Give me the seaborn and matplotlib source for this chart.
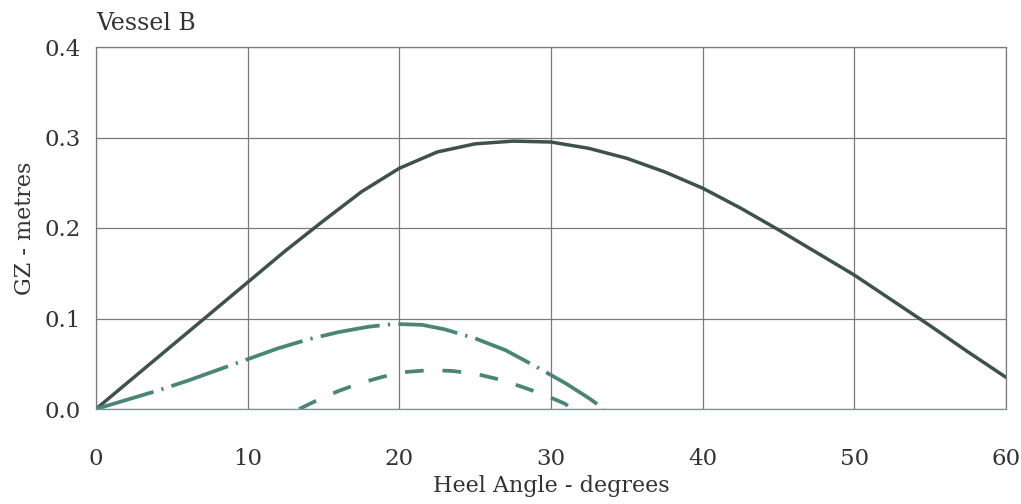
import matplotlib
matplotlib.use("Agg")
import matplotlib.pyplot as plt
import seaborn as sns
import pandas as pd

# Data
angle_full = [0, 2.5, 5, 7.5, 10, 12.5, 15, 17.5, 20, 22.5, 25, 27.5, 30, 32.5, 35, 37.5,
              40, 42.5, 45, 47.5, 50, 52.5, 55, 57.5, 60]
gz_full = [0.0, 0.035, 0.070, 0.105, 0.140, 0.175, 0.208, 0.240, 0.266, 0.284, 0.293, 0.296,
           0.295, 0.288, 0.277, 0.262, 0.244, 0.222, 0.198, 0.173, 0.148, 0.120, 0.092, 0.063, 0.035]

angle_dashdot = [0, 2, 4, 6, 8, 10, 12, 14, 16, 18, 19.7, 21.5, 23, 25, 27, 29, 31, 32.5, 33.5]
gz_dashdot = [0.0, 0.010, 0.020, 0.031, 0.043, 0.055, 0.067, 0.077, 0.085, 0.091, 0.094, 0.093,
              0.088, 0.078, 0.065, 0.047, 0.028, 0.012, 0.0]

angle_dashed = [13.4, 14.5, 16, 17.5, 19, 20.5, 22, 23.5, 25, 26.5, 28, 29.5, 30.9, 31.4]
gz_dashed = [0.0, 0.009, 0.020, 0.029, 0.036, 0.041, 0.043, 0.042, 0.039, 0.033, 0.025, 0.016,
             0.006, 0.0]

x_ticks = [0, 10, 20, 30, 40, 50, 60]
y_ticks = [0.0, 0.1, 0.2, 0.3, 0.4]
y_ticklabels = ["0.0", "0.1", "0.2", "0.3", "0.4"]

sns.set_theme(style="white")
plt.rcParams["font.family"] = ["DejaVu Serif"]

fig = plt.figure(figsize=(10.21, 5.04), dpi=100)
ax = fig.add_axes([96 / 1021, 1 - 409 / 504, 910 / 1021, 362 / 504])

dark = "#3e524d"
teal = "#4a8576"
txt = "#333333"

df_full = pd.DataFrame({"angle": angle_full, "gz": gz_full})
df_dd = pd.DataFrame({"angle": angle_dashdot, "gz": gz_dashdot})
df_d = pd.DataFrame({"angle": angle_dashed, "gz": gz_dashed})

sns.lineplot(data=df_full, x="angle", y="gz", ax=ax, color=dark, linewidth=2.5,
             sort=False, estimator=None)
sns.lineplot(data=df_dd, x="angle", y="gz", ax=ax, color=teal, linewidth=2.7,
             sort=False, estimator=None, linestyle=(0, (16, 2.2, 0.6, 2.2)))
sns.lineplot(data=df_d, x="angle", y="gz", ax=ax, color=teal, linewidth=2.7,
             sort=False, estimator=None, linestyle=(0, (5, 5)))

ax.set_xlim(0, 60)
ax.set_ylim(0, 0.4)
ax.set_xticks(x_ticks)
ax.set_yticks(y_ticks)
ax.set_yticklabels(y_ticklabels)
ax.grid(True, color="#7a7a7a", linewidth=0.9)
ax.set_axisbelow(True)
for s in ax.spines.values():
    s.set_color("#7a7a7a")
    s.set_linewidth(0.9)
ax.spines["bottom"].set_color("#6f9a90")

ax.tick_params(axis="x", length=0, pad=28, labelsize=16.5, labelcolor=txt)
ax.tick_params(axis="y", length=0, pad=11, labelsize=16.5, labelcolor=txt)
ax.set_xlabel("Heel Angle - degrees", fontsize=16, color=txt, labelpad=4)
ax.set_ylabel("GZ - metres", fontsize=16, color=txt, labelpad=6)
ax.set_title("Vessel B", loc="left", fontsize=17, color=txt, pad=12)

fig.savefig("out.png", dpi=100)
